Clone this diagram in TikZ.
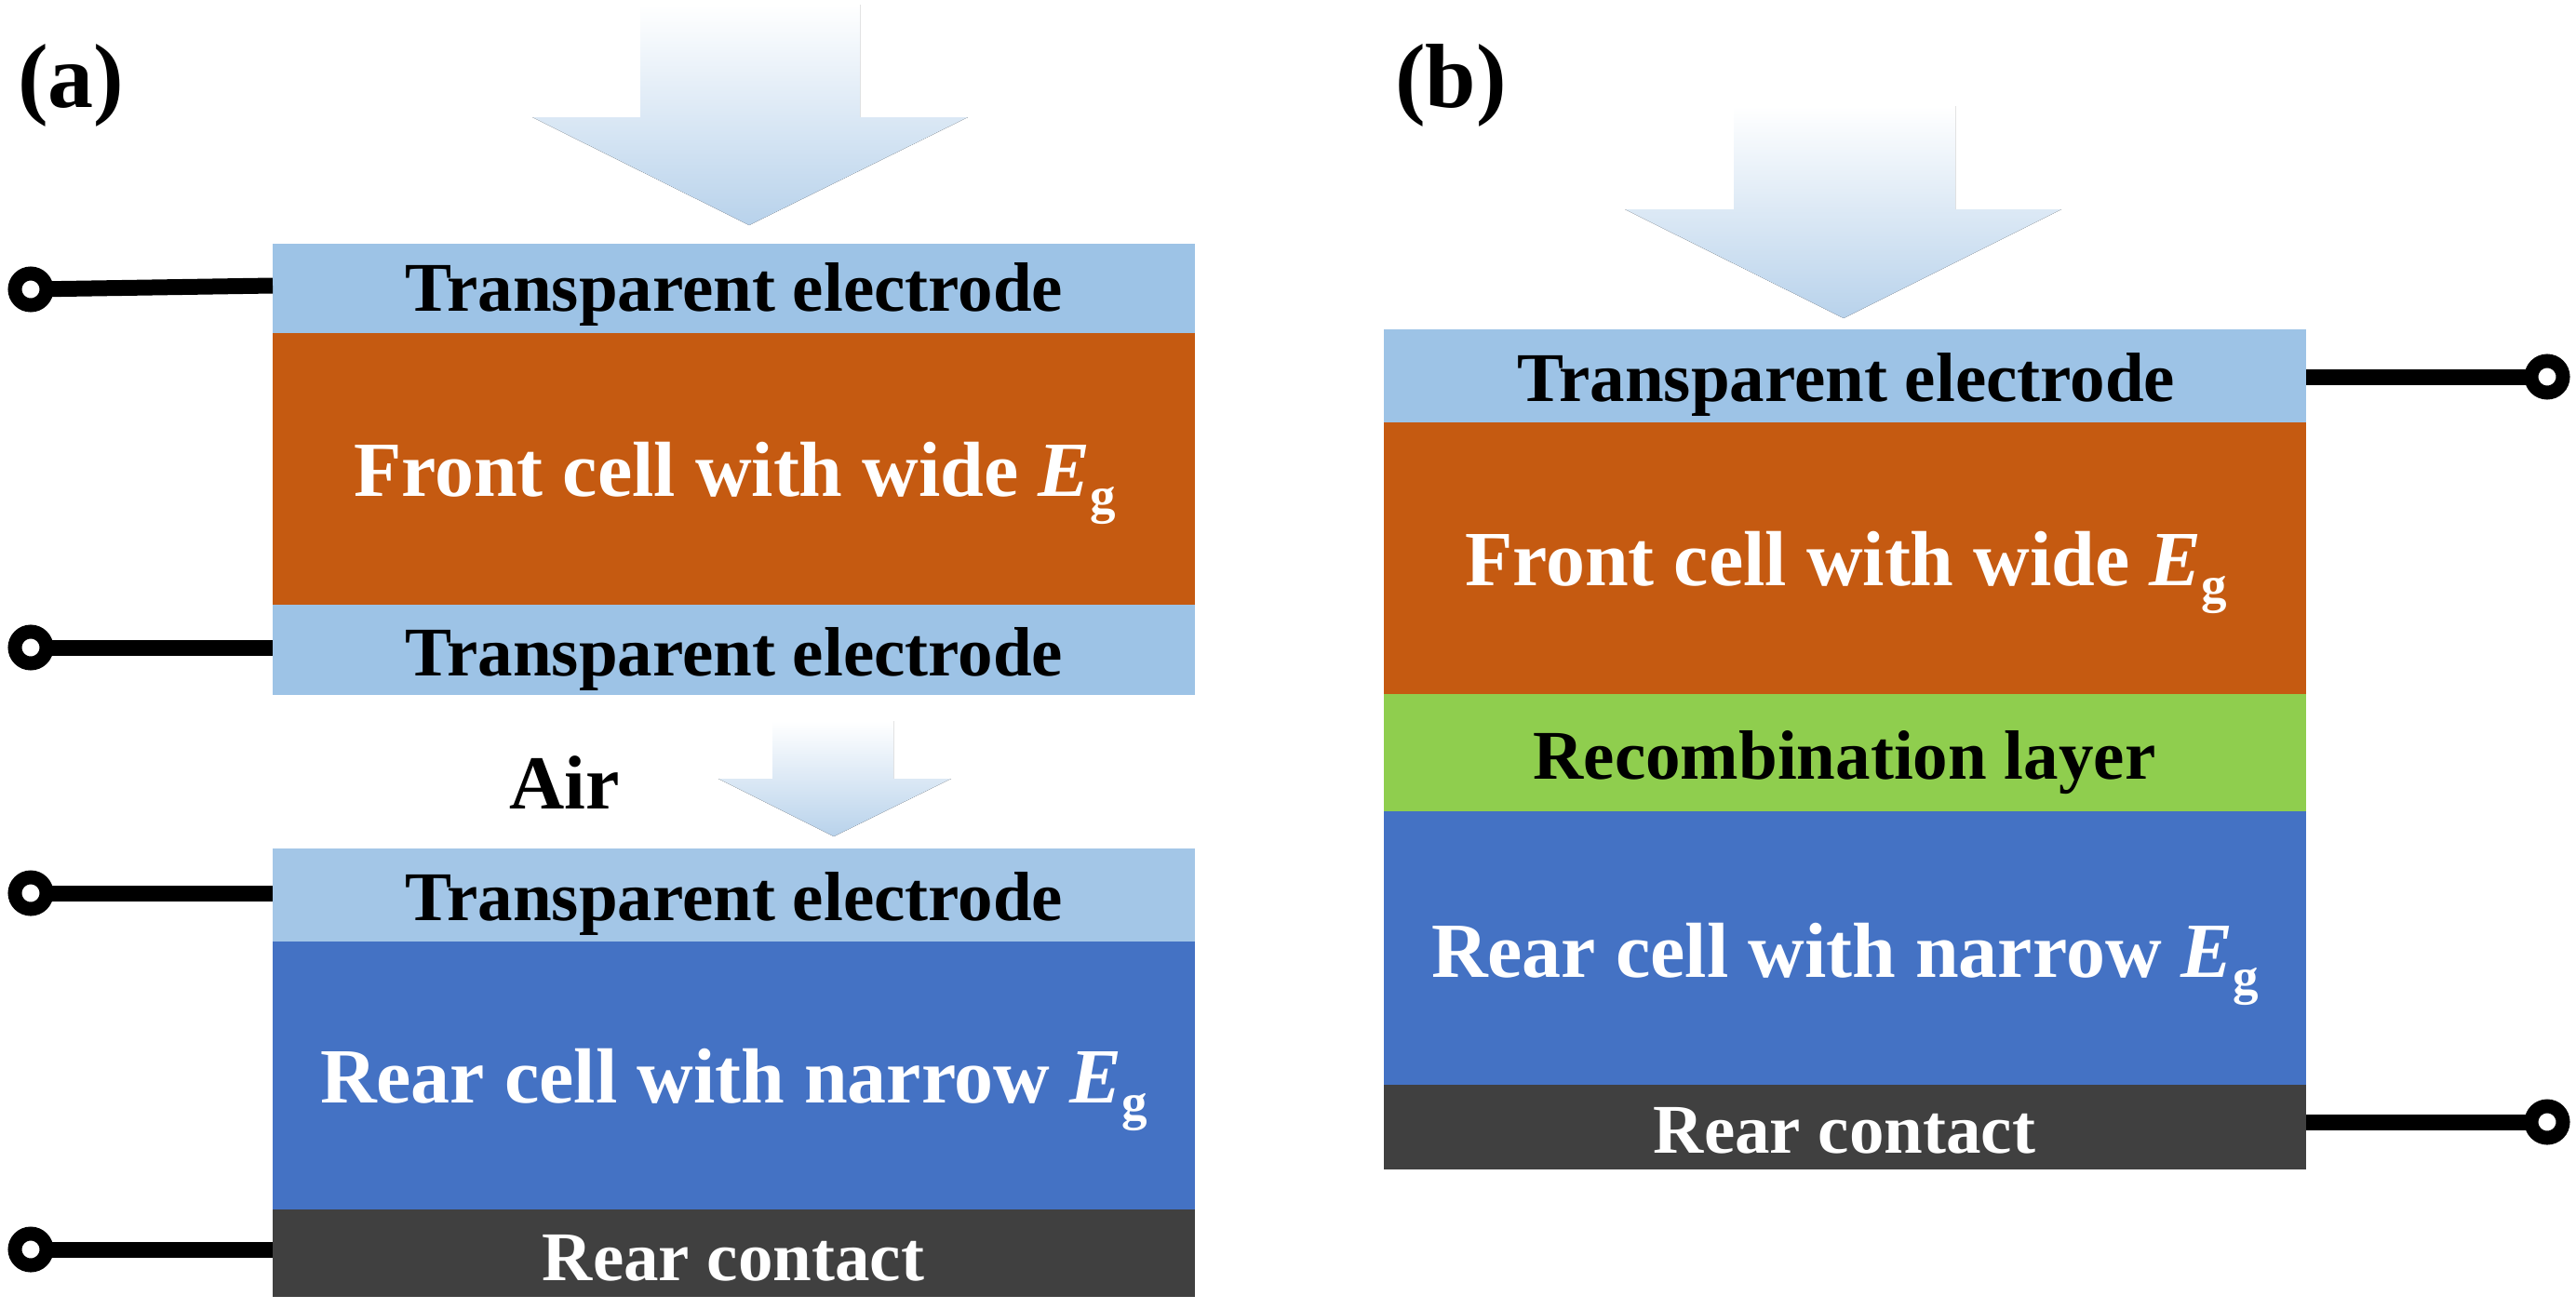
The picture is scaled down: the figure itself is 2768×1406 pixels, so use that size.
\documentclass[tikz,border=0pt]{standalone}
\usepackage{fontspec}
\setmainfont{Liberation Serif}
\definecolor{teblue}{HTML}{9DC3E6}
\definecolor{telight}{HTML}{A3C6E7}
\definecolor{frontor}{HTML}{C55A11}
\definecolor{recgreen}{HTML}{8FCE4E}
\definecolor{rearblue}{HTML}{4472C4}
\definecolor{contact}{HTML}{404040}
\definecolor{arrowblue}{HTML}{B8D2EB}
\newcommand{\Eg}[1]{\textit{E}\raisebox{-0.22em}{\fontsize{#1}{#1}\selectfont g}}
\tikzset{
  layer/.style={rectangle,inner sep=0pt,outer sep=0pt,draw=none,minimum width=#1},
  layer/.default=991pt,
  txt/.style={inner sep=0pt,outer sep=0pt,anchor=base,font=\bfseries\fontsize{75}{75}\selectfont},
  txtbig/.style={inner sep=0pt,outer sep=0pt,anchor=base west,font=\bfseries\fontsize{84}{84}\selectfont},
  terminal/.style={circle,draw=black,fill=white,line width=15pt,minimum size=34pt,inner sep=0pt,outer sep=0pt},
  wire/.style={draw=black,line width=17pt},
  lightarrow/.style={top color=white,bottom color=arrowblue,draw=none}
}
\begin{document}
\begin{tikzpicture}[x=1pt,y=-1pt]
\useasboundingbox (0,0) rectangle (2768,1406);
% panel labels
\node[inner sep=0pt,anchor=base west,font=\bfseries\fontsize{98}{98}\selectfont] (la) at (19,115) {(a)};
\node[inner sep=0pt,anchor=base west,font=\bfseries\fontsize{98}{98}\selectfont] (lb) at (1499,115) {(b)};
% light arrows
\fill[lightarrow] (688,5) -- (924,5) -- (924,126) -- (1040,126) -- (805,242) -- (572,126) -- (688,126) -- cycle;
\fill[lightarrow] (830,775) -- (960,775) -- (960,837) -- (1022,837) -- (896,899) -- (772,837) -- (830,837) -- cycle;
\fill[lightarrow] (1863,114) -- (2101,114) -- (2101,225) -- (2215,225) -- (1981,342) -- (1746,225) -- (1863,225) -- cycle;
% panel (a) layers
\node[layer,fill=teblue,minimum height=96pt] (ate1) at (788.5,310) {};
\node[layer,fill=frontor,minimum height=292pt] (afront) at (788.5,504) {};
\node[layer,fill=teblue,minimum height=97pt] (ate2) at (788.5,698.5) {};
\node[layer,fill=telight,minimum height=100pt] (ate3) at (788.5,962) {};
\node[layer,fill=rearblue,minimum height=288pt] (arear) at (788.5,1156) {};
\node[layer,fill=contact,minimum height=94pt] (acon) at (788.5,1347) {};
% panel (b) layers
\node[layer,fill=teblue,minimum height=100pt] (bte) at (1982.5,404) {};
\node[layer,fill=frontor,minimum height=292pt] (bfront) at (1982.5,600) {};
\node[layer,fill=recgreen,minimum height=126pt] (brec) at (1982.5,809) {};
\node[layer,fill=rearblue,minimum height=294pt] (brear) at (1982.5,1019) {};
\node[layer,fill=contact,minimum height=91pt] (bcon) at (1982.5,1211.5) {};
% texts (a)
\node[txt] (t1) at (789,334) {Transparent electrode};
\node[txtbig,white] (t2) at (380,533) {Front cell with wide \Eg{55}};
\node[txt] (t3) at (789,726) {Transparent electrode};
\node[inner sep=0pt,anchor=base west,font=\bfseries\fontsize{82}{82}\selectfont] (air) at (547,869) {Air};
\node[txt] (t4) at (789,989) {Transparent electrode};
\node[txtbig,white] (t5) at (344,1185) {Rear cell with narrow \Eg{55}};
\node[txt,white] (t6) at (788,1376) {Rear contact};
% texts (b)
\node[txt] (t7) at (1984,431) {Transparent electrode};
\node[txtbig,white] (t8) at (1574,629) {Front cell with wide \Eg{55}};
\node[txt] (t9) at (1982,837) {Recombination layer};
\node[txtbig,white] (t10) at (1538,1050) {Rear cell with narrow \Eg{55}};
\node[txt,white] (t11) at (1982,1239) {Rear contact};
% terminals
\node[terminal] (p1) at (33,311) {};
\node[terminal] (p2) at (33,696) {};
\node[terminal] (p3) at (33,960) {};
\node[terminal] (p4) at (33,1343) {};
\node[terminal] (p5) at (2737,405) {};
\node[terminal] (p6) at (2737,1206) {};
% wires
\draw[wire] (p1) -- ([yshift=3pt]ate1.west);
\draw[wire] (p2) -- (p2 -| ate2.west);
\draw[wire] (p3) -- (p3 -| ate3.west);
\draw[wire] (p4) -- (p4 -| acon.west);
\draw[wire] (p5) -- (p5 -| bte.east);
\draw[wire] (p6) -- (p6 -| bcon.east);
\end{tikzpicture}
\end{document}
